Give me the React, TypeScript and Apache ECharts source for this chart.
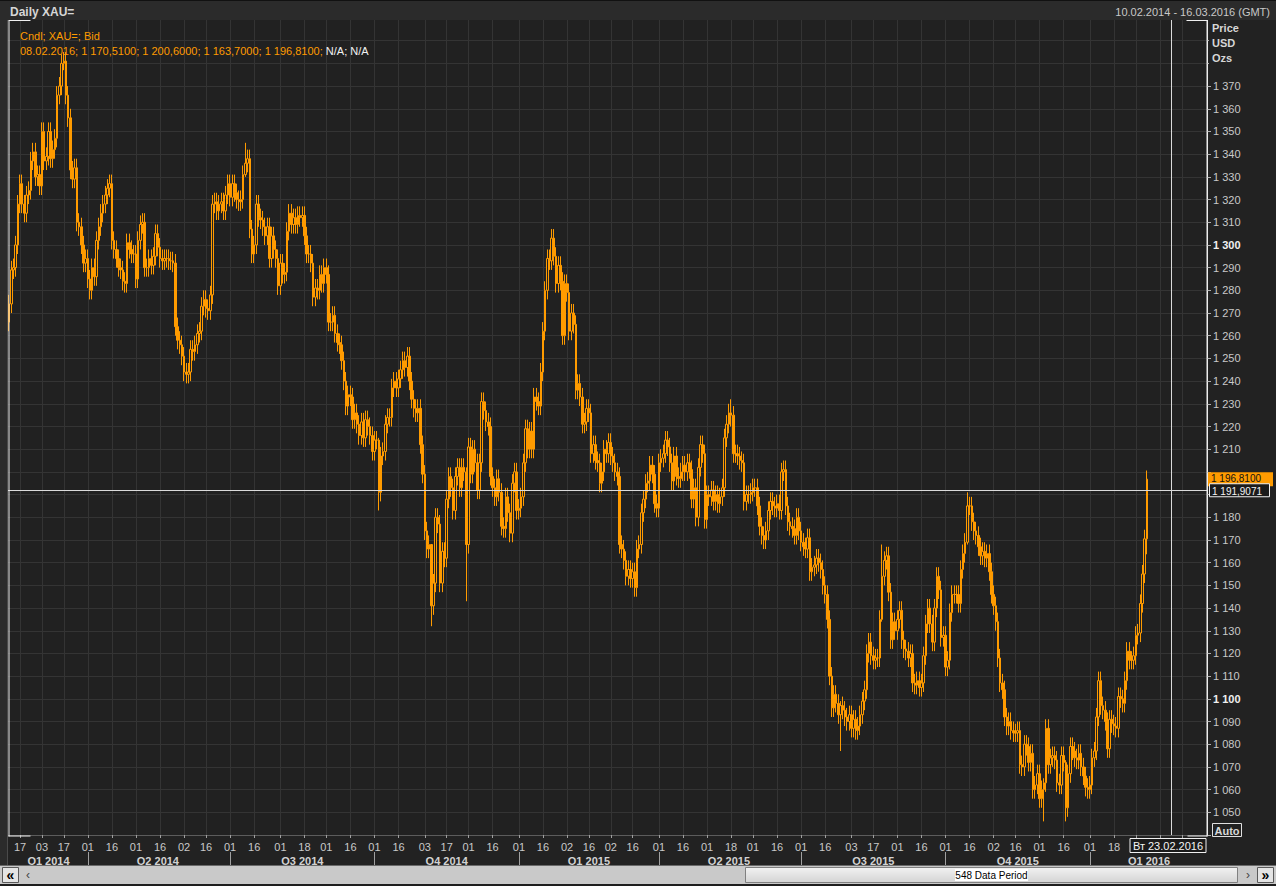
import React, { useEffect, useRef } from 'react';
import * as echarts from 'echarts';

// ---------------- data ----------------
const START_DATE = '2014-02-10'; // first weekday on the axis
const AXIS_DAYS = 548; // "548 Data Period"
const FIRST_OPEN = 1266;

// daily closes (USD/oz), one per weekday from 10.02.2014 to 08.02.2016
const closes: number[] = [
  1274, 1289, 1290, 1300, 1318, 1327, 1318, 1314, 1322, 1324,
  1337, 1341, 1330, 1331, 1326, 1350, 1337, 1339, 1350, 1338,
  1342, 1347, 1366, 1370, 1380, 1381, 1366, 1356, 1333, 1329,
  1334, 1310, 1308, 1300, 1292, 1294, 1285, 1280, 1290, 1286,
  1302, 1308, 1314, 1318, 1322, 1325, 1327, 1302, 1298, 1294,
  1290, 1289, 1284, 1283, 1301, 1298, 1296, 1296, 1285, 1302,
  1309, 1310, 1290, 1290, 1294, 1291, 1295, 1305, 1299, 1294,
  1293, 1294, 1294, 1293, 1293, 1292, 1264, 1258, 1256, 1251,
  1244, 1243, 1244, 1254, 1253, 1256, 1261, 1262, 1273, 1276,
  1272, 1271, 1278, 1318, 1319, 1315, 1318, 1319, 1315, 1322,
  1327, 1321, 1327, 1323, 1320, 1319, 1320, 1331, 1336, 1338,
  1307, 1296, 1300, 1318, 1312, 1311, 1308, 1304, 1308, 1294,
  1304, 1298, 1294, 1282, 1292, 1287, 1288, 1306, 1314, 1309,
  1312, 1309, 1313, 1312, 1313, 1304, 1296, 1296, 1292, 1277,
  1281, 1280, 1287, 1283, 1290, 1287, 1266, 1266, 1269, 1261,
  1257, 1256, 1249, 1240, 1229, 1234, 1233, 1223, 1226, 1221,
  1216, 1222, 1215, 1223, 1220, 1216, 1209, 1214, 1214, 1191,
  1207, 1209, 1221, 1224, 1224, 1237, 1240, 1237, 1241, 1245,
  1249, 1246, 1251, 1240, 1232, 1228, 1226, 1228, 1212, 1199,
  1174, 1166, 1168, 1141, 1151, 1180, 1177, 1151, 1165, 1162,
  1188, 1198, 1193, 1183, 1198, 1202, 1193, 1202, 1200, 1168,
  1211, 1199, 1210, 1204, 1192, 1204, 1231, 1227, 1222, 1220,
  1198, 1193, 1189, 1197, 1191, 1176, 1175, 1189, 1182, 1173,
  1195, 1200, 1183, 1184, 1189, 1204, 1219, 1210, 1218, 1210,
  1233, 1231, 1229, 1244, 1262, 1280, 1294, 1293, 1303, 1295,
  1283, 1291, 1284, 1260, 1283, 1279, 1262, 1270, 1265, 1236,
  1239, 1233, 1221, 1222, 1228, 1226, 1208, 1212, 1205, 1204,
  1195, 1200, 1210, 1208, 1213, 1207, 1204, 1200, 1198, 1168,
  1166, 1161, 1154, 1157, 1153, 1156, 1149, 1166, 1168, 1182,
  1188, 1195, 1196, 1203, 1199, 1186, 1184, 1204, 1206, 1208,
  1214, 1211, 1204, 1196, 1207, 1198, 1197, 1200, 1203, 1200,
  1204, 1201, 1188, 1193, 1180, 1202, 1212, 1208, 1179, 1190,
  1189, 1192, 1187, 1190, 1186, 1189, 1193, 1215, 1221, 1226,
  1225, 1208, 1208, 1207, 1205, 1204, 1187, 1190, 1190, 1191,
  1193, 1193, 1185, 1176, 1172, 1170, 1174, 1183, 1187, 1185,
  1184, 1186, 1183, 1200, 1201, 1185, 1178, 1176, 1175, 1172,
  1180, 1174, 1169, 1167, 1166, 1171, 1156, 1158, 1159, 1162,
  1160, 1157, 1150, 1146, 1135, 1110, 1096, 1102, 1098, 1093,
  1097, 1095, 1092, 1090, 1093, 1087, 1091, 1086, 1088, 1093,
  1099, 1104, 1120, 1125, 1119, 1117, 1118, 1118, 1135, 1154,
  1161, 1163, 1147, 1126, 1134, 1130, 1135, 1139, 1126, 1122,
  1121, 1118, 1120, 1107, 1106, 1108, 1105, 1107, 1119, 1133,
  1140, 1133, 1125, 1140, 1154, 1148, 1127, 1128, 1114, 1117,
  1138, 1146, 1146, 1146, 1142, 1157, 1164, 1169, 1185, 1185,
  1178, 1174, 1172, 1167, 1163, 1165, 1162, 1164, 1156, 1146,
  1141, 1134, 1118, 1107, 1104, 1092, 1088, 1090, 1086, 1085,
  1085, 1086, 1071, 1070, 1080, 1079, 1072, 1076, 1060, 1062,
  1067, 1056, 1060, 1063, 1087, 1071, 1074, 1075, 1073, 1063,
  1062, 1075, 1072, 1052, 1067, 1079, 1077, 1074, 1073, 1076,
  1070, 1066, 1061, 1060, 1062, 1074, 1077, 1092, 1108, 1097,
  1095, 1090, 1078, 1091, 1089, 1088, 1087, 1101, 1100, 1098,
  1108, 1121, 1117, 1117, 1119, 1128, 1129, 1142, 1155, 1170.51,
  1196.81,
];

// notable wick extremes: [day index, low, high]
const wickExtremes: [number, number, number][] = [
  [25, 1377, 1385],
  [108, 1330, 1345],
  [169, 1183, 1215],
  [193, 1132, 1152],
  [209, 1143, 1202],
  [330, 1220, 1232],
  [380, 1077, 1099],
  [399, 1134, 1168],
  [438, 1168, 1191],
  [473, 1046, 1065],
  [483, 1046, 1073],
  [520, 1163.7, 1200.6],
];
const WICK = 4;

const lastBarDate = '08.02.2016';
const lastBar = { open: 1170.51, high: 1200.6, low: 1163.7, close: 1196.81 };
const crossDate = '2016-02-23';
const crossDateLabel = 'Вт 23.02.2016';
const crossPrice = 1191.9071;

// labelled day ticks
const dayTicks = [
  '2014-02-17', '2014-03-03', '2014-03-17', '2014-04-01', '2014-04-16', '2014-05-01',
  '2014-05-16', '2014-06-02', '2014-06-16', '2014-07-01', '2014-07-16', '2014-08-01',
  '2014-08-18', '2014-09-01', '2014-09-16', '2014-10-01', '2014-10-16', '2014-11-03',
  '2014-11-17', '2014-12-01', '2014-12-16', '2015-01-01', '2015-01-16', '2015-02-02',
  '2015-02-16', '2015-03-02', '2015-03-16', '2015-04-01', '2015-04-16', '2015-05-01',
  '2015-05-18', '2015-06-01', '2015-06-16', '2015-07-01', '2015-07-16', '2015-08-03',
  '2015-08-17', '2015-09-01', '2015-09-16', '2015-10-01', '2015-10-16', '2015-11-02',
  '2015-11-16', '2015-12-01', '2015-12-16', '2016-01-01', '2016-01-18',
];
// grid-only ticks (their labels sit under the crosshair date box)
const coveredDayTicks = ['2016-02-01', '2016-02-16', '2016-03-01'];

const Y_MIN = 1040;
const Y_MAX = 1400;
const Y_STEP = 10;
const Y_LABEL_MIN = 1050;
const Y_LABEL_MAX = 1370;

// ---------------- styling ----------------
const ORANGE = '#ff9b00';
const BG = '#222222';
const PLOT_BG = '#212121';
const GRID = '#343434';
const TXT = '#c9c9c9';
const FONT = '"Liberation Sans", Arial, sans-serif';

// ---------------- helpers ----------------
function weekdays(start: string, n: number): string[] {
  const out: string[] = [];
  const d = new Date(start + 'T00:00:00Z');
  while (out.length < n) {
    const wd = d.getUTCDay();
    if (wd !== 0 && wd !== 6) out.push(d.toISOString().slice(0, 10));
    d.setUTCDate(d.getUTCDate() + 1);
  }
  return out;
}
function thousands(v: number): string {
  const s = String(Math.trunc(v));
  return s.length > 3 ? s.slice(0, s.length - 3) + ' ' + s.slice(-3) : s;
}
function price4(v: number): string {
  const frac = Math.round((v - Math.trunc(v)) * 10000);
  return thousands(v) + ',' + String(frac).padStart(4, '0');
}
function quarterOf(date: string): string {
  const m = Number(date.slice(5, 7));
  return 'Q' + (Math.floor((m - 1) / 3) + 1) + ' ' + date.slice(0, 4);
}
// axis labels that sit underneath the price marker boxes are covered
function coveredByMarker(v: number): boolean {
  return Math.abs(v - lastBar.close) < 5 || Math.abs(v - crossPrice) < 5;
}

const dates = weekdays(START_DATE, AXIS_DAYS);
const labelSet = new Set(dayTicks);
const gridSet = new Set([...dayTicks, ...coveredDayTicks]);

// quarter starts (separators) and quarter middles (labels)
const quarterStart = new Set<number>();
const quarterMid = new Set<number>();
{
  let first = 0;
  for (let i = 1; i <= dates.length; i++) {
    if (i === dates.length || quarterOf(dates[i]) !== quarterOf(dates[i - 1])) {
      quarterMid.add(Math.round((first + i - 1) / 2));
      if (i < dates.length) quarterStart.add(i);
      first = i;
    }
  }
}

const candles = closes.map((c, i) => {
  const o = i === 0 ? FIRST_OPEN : closes[i - 1];
  let lo = Math.min(o, c) - WICK;
  let hi = Math.max(o, c) + WICK;
  const ex = wickExtremes.find((w) => w[0] === i);
  if (ex) {
    lo = ex[1];
    hi = ex[2];
  }
  return [o, c, lo, hi];
});

export default function App() {
  const ref = useRef<HTMLDivElement>(null);

  useEffect(() => {
    const chart = echarts.init(ref.current!, null, { renderer: 'svg' });
    const option: any = {
      animation: false,
      backgroundColor: BG,
      textStyle: { fontFamily: FONT },
      grid: {
        left: 8,
        right: 69,
        top: 18,
        height: 817,
        show: true,
        backgroundColor: PLOT_BG,
        borderWidth: 0,
      },
      xAxis: [
        {
          type: 'category',
          data: dates,
          boundaryGap: true,
          axisLine: { show: true, lineStyle: { color: '#5c5c5c', width: 1 } },
          axisTick: {
            show: true,
            alignWithLabel: true,
            length: 3,
            interval: (_i: number, v: string) => gridSet.has(v),
            lineStyle: { color: '#a0a0a0' },
          },
          axisLabel: {
            interval: (_i: number, v: string) => labelSet.has(v),
            formatter: (v: string) => v.slice(8, 10),
            color: TXT,
            fontSize: 11,
            fontFamily: FONT,
            margin: 6,
          },
          splitLine: {
            show: true,
            alignWithLabel: true,
            interval: (_i: number, v: string) => gridSet.has(v),
            lineStyle: { color: GRID, width: 1 },
          },
        },
        {
          type: 'category',
          data: dates,
          position: 'bottom',
          offset: 17,
          boundaryGap: true,
          axisLine: { show: false },
          axisTick: {
            show: true,
            alignWithLabel: true,
            length: 13,
            interval: (i: number) => quarterStart.has(i),
            lineStyle: { color: '#a0a0a0' },
          },
          axisLabel: {
            interval: (i: number) => quarterMid.has(i),
            formatter: (v: string) => quarterOf(v),
            color: '#d2d2d2',
            fontWeight: 'bold',
            fontSize: 11,
            fontFamily: FONT,
            margin: 3,
          },
          splitLine: { show: false },
        },
      ],
      yAxis: {
        type: 'value',
        position: 'right',
        min: Y_MIN,
        max: Y_MAX,
        interval: Y_STEP,
        axisLine: { show: true, lineStyle: { color: '#e8e8e8', width: 1 } },
        axisTick: { show: true, length: 4, lineStyle: { color: '#b0b0b0' } },
        axisLabel: {
          margin: 6,
          color: TXT,
          fontSize: 11,
          fontFamily: FONT,
          formatter: (v: number) => {
            if (v < Y_LABEL_MIN || v > Y_LABEL_MAX || coveredByMarker(v)) return '';
            return v % 100 === 0 ? '{b|' + thousands(v) + '}' : thousands(v);
          },
          rich: { b: { color: '#f0f0f0', fontWeight: 'bold', fontSize: 11, fontFamily: FONT } },
        },
        splitLine: { show: true, lineStyle: { color: GRID, width: 1 } },
      },
      series: [
        {
          type: 'candlestick',
          data: candles,
          barWidth: 2,
          itemStyle: {
            color: PLOT_BG,
            color0: ORANGE,
            borderColor: ORANGE,
            borderColor0: ORANGE,
            borderColorDoji: ORANGE,
            borderWidth: 1,
          },
          markLine: {
            silent: true,
            symbol: ['none', 'none'],
            label: { show: false },
            lineStyle: { color: '#dadada', width: 1, type: 'solid' },
            data: [{ xAxis: crossDate }, { yAxis: crossPrice }],
          },
        },
      ],
    };
    chart.setOption(option);

    const yLast = chart.convertToPixel({ yAxisIndex: 0 }, lastBar.close) as number;
    const yCross = chart.convertToPixel({ yAxisIndex: 0 }, crossPrice) as number;
    const xCross = chart.convertToPixel({ xAxisIndex: 0 }, crossDate) as number;

    const plotL = 8.5;
    const plotR = 1207.5;
    const plotT = 20.5;
    const plotB = 835.5;
    const line = (x1: number, y1: number, x2: number, y2: number, color: string) => ({
      type: 'line',
      z: 50,
      silent: true,
      shape: { x1, y1, x2, y2 },
      style: { stroke: color, lineWidth: 1 },
    });
    const text = (x: number, y: number, t: string, fill: string, extra: any = {}, z = 60) => ({
      type: 'text',
      z,
      silent: true,
      x,
      y,
      style: {
        text: t,
        fill,
        font: '11px ' + FONT,
        verticalAlign: 'middle',
        align: 'left',
        ...extra,
      },
    });

    const legendTxt =
      lastBarDate + '; ' + price4(lastBar.open) + '; ' + price4(lastBar.high) + '; ' +
      price4(lastBar.low) + '; ' + price4(lastBar.close) + '; ';

    const dateBoxW = 76;
    const dateBoxX = Math.min(xCross - dateBoxW / 2, plotR - dateBoxW - 2);

    const graphic: any[] = [
      // title bar
      { type: 'rect', z: 40, silent: true, shape: { x: 0, y: 0, width: 1276, height: 20 }, style: { fill: '#2b2b2b' } },
      line(0, 0.5, 1276, 0.5, '#111'),
      text(10, 12, 'Daily XAU=', '#d6d6d6', { font: 'bold 12px ' + FONT }),
      text(1270, 12, '10.02.2014 - 16.03.2016 (GMT)', '#c8c8c8', { align: 'right' }),
      // left frame strip
      { type: 'rect', z: 40, silent: true, shape: { x: 0, y: 20, width: 8, height: 846 }, style: { fill: '#2b2b2b' } },
      line(7.5, 20, 7.5, 866, '#4a4a4a'),
      // cover over right header area
      { type: 'rect', z: 40, silent: true, shape: { x: 1209, y: 20, width: 67, height: 56 }, style: { fill: BG } },
      text(1212, 28, 'Price', '#d6d6d6', { font: 'bold 11px ' + FONT }),
      text(1212, 43, 'USD', '#d6d6d6', { font: 'bold 11px ' + FONT }),
      text(1212, 58, 'Ozs', '#d6d6d6', { font: 'bold 11px ' + FONT }),
      // legend
      text(20, 36, 'Cndl; XAU=; Bid', ORANGE),
      {
        type: 'text',
        z: 60,
        silent: true,
        x: 20,
        y: 51,
        style: {
          text: '{o|' + legendTxt + '}{w|N/A; N/A}',
          font: '11px ' + FONT,
          verticalAlign: 'middle',
          rich: {
            o: { fill: ORANGE, font: '11px ' + FONT },
            w: { fill: '#f2f2f2', font: '11px ' + FONT },
          },
        },
      },
      // white frame brackets
      line(plotL + 0.5, plotT, plotL + 0.5, plotB + 1, '#f0f0f0'),
      line(plotL, plotT, plotL + 22, plotT, '#f0f0f0'),
      line(plotL, plotB + 0.5, plotL + 22, plotB + 0.5, '#f0f0f0'),
      line(plotR - 21, plotT, plotR, plotT, '#f0f0f0'),
      line(plotR - 20, plotB + 0.5, plotR, plotB + 0.5, '#f0f0f0'),
      line(plotR - 0.5, plotT, plotR - 0.5, plotB + 1, '#f0f0f0'),
      // Auto box
      { type: 'rect', z: 60, silent: true, shape: { x: 1212.5, y: 823.5, width: 29, height: 13 }, style: { fill: BG, stroke: '#e0e0e0', lineWidth: 1 } },
      text(1227, 830.5, 'Auto', '#d8d8d8', { font: 'bold 11px ' + FONT, align: 'center' }, 61),
      // last price label (orange)
      { type: 'rect', z: 60, silent: true, shape: { x: 1208, y: yLast - 7, width: 65, height: 14 }, style: { fill: ORANGE } },
      text(1211, yLast - 0.5, price4(lastBar.close), '#111111', { font: '10px ' + FONT }, 61),
      // crosshair price label
      { type: 'rect', z: 62, silent: true, shape: { x: 1209.5, y: yCross - 6.5, width: 60, height: 13 }, style: { fill: '#1b1b1b', stroke: '#f0f0f0', lineWidth: 1 } },
      text(1212, yCross + 1, price4(crossPrice), '#f4f4f4', { font: '10px ' + FONT }, 63),
      // crosshair date label
      { type: 'rect', z: 62, silent: true, shape: { x: dateBoxX + 0.5, y: 838.5, width: dateBoxW, height: 14 }, style: { fill: '#1b1b1b', stroke: '#f0f0f0', lineWidth: 1 } },
      text(dateBoxX + 0.5 + dateBoxW / 2, 846, crossDateLabel, '#f4f4f4', { align: 'center' }, 63),
      // scrollbar
      { type: 'rect', z: 40, silent: true, shape: { x: 0, y: 866, width: 1276, height: 20 }, style: { fill: '#c9c9c9' } },
      line(0, 865.5, 1276, 865.5, '#6a6a6a'),
      line(0, 884.5, 1276, 884.5, '#1e1e1e'),
      line(0, 885.5, 1276, 885.5, '#1e1e1e'),
      { type: 'rect', z: 41, silent: true, shape: { x: 2.5, y: 867.5, width: 16, height: 15 }, style: { fill: '#e4e4e4', stroke: '#5a5a5a', lineWidth: 1 } },
      text(10.5, 875, '«', '#000', { font: 'bold 14px ' + FONT, align: 'center' }, 61),
      text(28, 875, '‹', '#444', { font: '12px ' + FONT, align: 'center' }),
      { type: 'rect', z: 41, silent: true, shape: { x: 745.5, y: 867.5, width: 492, height: 15 }, style: { fill: new echarts.graphic.LinearGradient(0, 0, 0, 1, [{ offset: 0, color: '#f2f2f2' }, { offset: 1, color: '#d4d4d4' }]), stroke: '#808080', lineWidth: 1 } },
      { type: 'rect', z: 42, silent: true, shape: { x: 955, y: 869, width: 73, height: 12 }, style: { fill: '#ffffff' } },
      text(991.5, 875.5, '548 Data Period', '#000', { font: '10px ' + FONT, align: 'center' }, 43),
      text(1248, 875, '›', '#444', { font: '12px ' + FONT, align: 'center' }),
      { type: 'rect', z: 41, silent: true, shape: { x: 1257.5, y: 867.5, width: 16, height: 15 }, style: { fill: '#e4e4e4', stroke: '#5a5a5a', lineWidth: 1 } },
      text(1265.5, 875, '»', '#000', { font: 'bold 14px ' + FONT, align: 'center' }, 61),
    ];
    chart.setOption({ graphic });

    return () => chart.dispose();
  }, []);

  return (
    <div
      ref={ref}
      style={{ position: 'fixed', left: 0, top: 0, width: 1276, height: 886, margin: 0 }}
    />
  );
}
